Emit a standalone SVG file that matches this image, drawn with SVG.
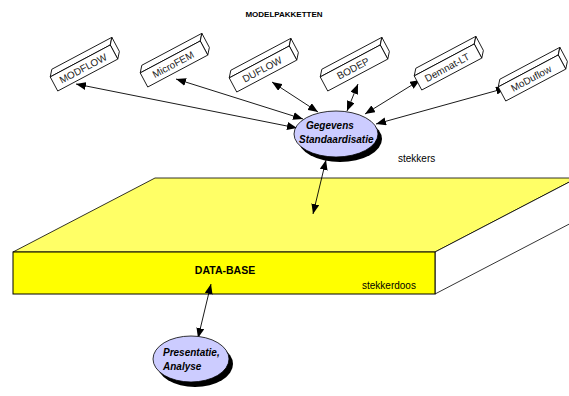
<svg xmlns="http://www.w3.org/2000/svg" width="569" height="396" viewBox="0 0 569 396">
<defs>
<style>
.t{font-family:"Liberation Sans",Arial,sans-serif;fill:#000}
.bx{fill:#fff;stroke:#000;stroke-width:0.8}
.bt{font-family:"Liberation Sans",Arial,sans-serif;font-size:10px;fill:#222}
.ln{stroke:#000;stroke-width:0.9;fill:none;marker-start:url(#ah);marker-end:url(#ah)}
.el{fill:#ccccff;stroke:#000;stroke-width:0.8}
.sh{fill:#000}
.bi{font-family:"Liberation Sans",Arial,sans-serif;font-size:10px;font-weight:bold;font-style:italic;fill:#000}
</style>
<marker id="ah" viewBox="0 0 10 8" refX="10" refY="4" markerWidth="10" markerHeight="8" markerUnits="userSpaceOnUse" orient="auto-start-reverse">
<path d="M0,0 L10,4 L0,8 Z" fill="#000"/>
</marker>
<g id="box">
<polygon class="bx" points="-34,-8 34,-8 39,-14 -29,-14"/>
<polygon class="bx" points="34,-8 34,8 39,2 39,-14"/>
<rect class="bx" x="-34" y="-8" width="68" height="16"/>
</g>
</defs>
<rect width="569" height="396" fill="#fff"/>
<text class="t" x="284" y="17" font-size="8" font-weight="bold" text-anchor="middle">MODELPAKKETTEN</text>

<g id="database">
<polygon points="13,252 155,178 577,178 435,252" fill="#ffff66" stroke="#000" stroke-width="0.8"/>
<polygon points="435,252 577,178 577,220 435,294" fill="#fff" stroke="#000" stroke-width="0.8"/>
<rect x="13" y="252" width="422" height="42" fill="#ffff00" stroke="#000" stroke-width="1"/>
<text class="t" x="225" y="274" font-size="10.5" font-weight="bold" text-anchor="middle">DATA-BASE</text>
<text class="t" x="362" y="289" font-size="10">stekkerdoos</text>
</g>

<g id="connectors">
<line class="ln" x1="297" y1="128" x2="76" y2="84"/>
<line class="ln" x1="303" y1="119" x2="176" y2="79"/>
<line class="ln" x1="318" y1="112" x2="272" y2="82"/>
<line class="ln" x1="347" y1="111" x2="358" y2="84"/>
<line class="ln" x1="365" y1="114" x2="420" y2="80"/>
<line class="ln" x1="376" y1="124" x2="506" y2="88"/>
<line class="ln" x1="326" y1="160" x2="313" y2="214"/>
<line class="ln" x1="211" y1="284" x2="198" y2="338"/>
</g>

<g id="modflow" transform="translate(84,68) rotate(-28)"><use href="#box"/><text class="bt" x="-1" y="3.5" text-anchor="middle">MODFLOW</text></g>
<g id="microfem" transform="translate(174,64) rotate(-28)"><use href="#box"/><text class="bt" x="-1" y="3.5" text-anchor="middle">MicroFEM</text></g>
<g id="duflow" transform="translate(263,69) rotate(-28)"><use href="#box"/><text class="bt" x="-1" y="3.5" text-anchor="middle">DUFLOW</text></g>
<g id="bodep" transform="translate(354,68) rotate(-28)"><use href="#box"/><text class="bt" x="-1" y="3.5" text-anchor="middle">BODEP</text></g>
<g id="demnat" transform="translate(448,67) rotate(-28)"><use href="#box"/><text class="bt" x="-1" y="3.5" text-anchor="middle">Demnat-LT</text></g>
<g id="moduflow" transform="translate(532,78) rotate(-28)"><use href="#box"/><text class="bt" x="-1" y="3.5" text-anchor="middle">MoDuflow</text></g>

<g id="standaardisatie">
<ellipse class="sh" cx="340" cy="139" rx="42" ry="23"/>
<ellipse class="el" cx="336" cy="134" rx="42" ry="23"/>
<text class="bi" x="306" y="129">Gegevens</text>
<text class="bi" x="299" y="143">Standaardisatie</text>
<text class="t" x="398" y="162" font-size="10">stekkers</text>
</g>

<g id="presentatie">
<ellipse class="sh" cx="195" cy="364" rx="38" ry="23"/>
<ellipse class="el" cx="191" cy="359" rx="38" ry="23"/>
<text class="bi" x="163" y="356">Presentatie,</text>
<text class="bi" x="163" y="370">Analyse</text>
</g>
</svg>
